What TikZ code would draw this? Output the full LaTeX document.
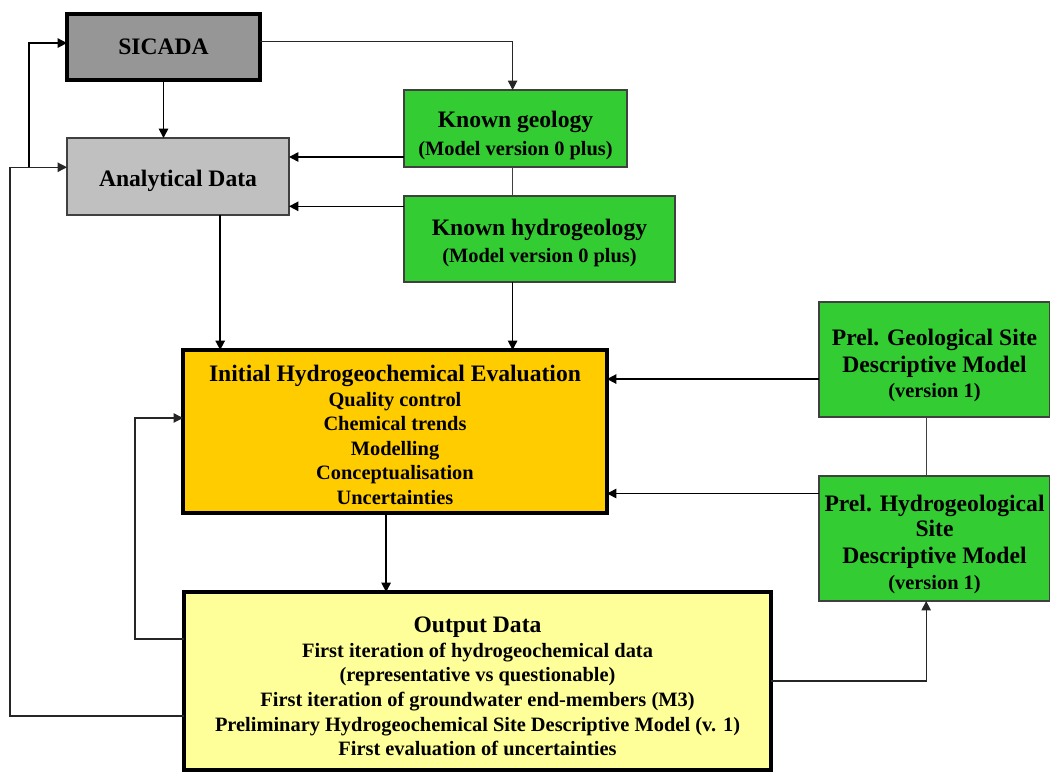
\documentclass[tikz,border=0pt]{standalone}
\usepackage{fontspec}
\setmainfont{Liberation Serif}
\usetikzlibrary{arrows.meta,calc}

\definecolor{sicadagray}{HTML}{969696}
\definecolor{datagray}{HTML}{C0C0C0}
\definecolor{modelgreen}{HTML}{33CC33}
\definecolor{evalorange}{HTML}{FFCC00}
\definecolor{outyellow}{HTML}{FFFF99}
\definecolor{edgegray}{HTML}{404040}

\newcommand\hdtxt{\fontsize{17.7}{21}\selectfont}
\newcommand\ittxt{\fontsize{15.3}{18.4}\selectfont}
% invisible strut that adds head room above the first line of a box
\newcommand\topgap[1]{\rule{0pt}{#1}}

\tikzset{
  panel/.style={draw=edgegray, line width=0.8pt, inner sep=0pt, outer sep=0pt,
                align=center, font=\bfseries\ittxt},
  sz/.style 2 args={minimum width={#1*0.75pt}, minimum height={#2*0.75pt}},
  heavy/.style={draw=black, line width=3pt},
  arr/.style={-{Triangle[length=7pt,width=7pt]}, line width=1.2pt, draw=black},
  thinarr/.style={-{Triangle[length=7pt,width=7pt]}, line width=0.9pt, draw=black!85},
  link/.style={line width=0.9pt, draw=edgegray}
}

\begin{document}
\begin{tikzpicture}[x=0.75pt,y=-0.75pt]
\useasboundingbox (0,0) rectangle (1050,772);

% ---- boxes ----
\node[panel, heavy, fill=sicadagray, sz={193}{66}] (sicada) at (163.5,47) {\hdtxt SICADA};
\node[panel, fill=datagray, sz={222}{77}] (ana) at (178,176.5)
  {\hdtxt\topgap{18.2pt}Analytical Data};
\node[panel, fill=modelgreen, sz={223}{77}] (kgeo) at (515.5,128.5)
  {{\hdtxt\topgap{22.7pt}Known geology}\\[2pt](Model version 0 plus)};
\node[panel, fill=modelgreen, sz={271}{86}] (khyd) at (539.5,239)
  {{\hdtxt\topgap{18.5pt}Known hydrogeology}\\[2pt](Model version 0 plus)};
\node[panel, fill=modelgreen, sz={231}{115}] (pgeo) at (934.5,359.5)
  {{\hdtxt\topgap{21.2pt}Prel. Geological Site}\\[2pt]{\hdtxt Descriptive Model}\\(version 1)};
\node[panel, fill=modelgreen, sz={231}{125}] (phyd) at (934.5,538.5)
  {{\hdtxt\topgap{21pt}Prel. Hydrogeological}\\{\hdtxt Site}\\[2pt]{\hdtxt Descriptive Model}\\[1pt](version 1)};
\node[panel, heavy, fill=evalorange, sz={424}{163}] (ihe) at (395,431.5)
  {{\hdtxt\topgap{17.6pt}Initial Hydrogeochemical Evaluation}\\
   Quality control\\Chemical trends\\Modelling\\Conceptualisation\\Uncertainties};
\node[panel, heavy, fill=outyellow, sz={587}{178}] (out) at (477.5,681)
  {{\hdtxt\topgap{20pt}Output Data}\\
   First iteration of hydrogeochemical data\\
   (representative vs questionable)\\
   First iteration of groundwater end-members (M3)\\
   Preliminary Hydrogeochemical Site Descriptive Model (v. 1)\\
   First evaluation of uncertainties};

% ---- routing columns ----
\coordinate (outerx) at (10,0);
\coordinate (branchx) at (29,0);
\coordinate (loopx) at (135,0);

% ---- connectors ----
% SICADA feeds the analytical data and the known geology
\draw[arr] (sicada.south) -- (sicada.south |- ana.north);
\coordinate (s1) at ($(sicada.north east)!0.42!(sicada.south east)$);
\coordinate (g1) at ($(kgeo.north west)!0.487!(kgeo.north east)$);
\draw[thinarr] (s1) -| (g1);

% known geology / hydrogeology to analytical data
\coordinate (g2) at ($(kgeo.north west)!0.87!(kgeo.south west)$);
\draw[arr] (g2) -- (g2 -| ana.east);
\coordinate (h1) at ($(khyd.north west)!0.12!(khyd.south west)$);
\draw[arr] (h1) -- (h1 -| ana.east);
\draw[link] (g1 |- kgeo.south) -- (g1 |- khyd.north);
\draw[arr] (g1 |- khyd.south) -- (g1 |- ihe.north);

% analytical data to the evaluation
\coordinate (a1) at ($(ana.south west)!0.69!(ana.south east)$);
\draw[arr] (a1) -- (a1 |- ihe.north);

% preliminary site models to the evaluation
\coordinate (p1) at ($(pgeo.north west)!0.67!(pgeo.south west)$);
\draw[arr] (p1) -- (p1 -| ihe.east);
\coordinate (p2) at ($(phyd.north west)!0.14!(phyd.south west)$);
\draw[arr] (p2) -- (p2 -| ihe.east);
\coordinate (p3) at ($(pgeo.south west)!0.464!(pgeo.south east)$);
\draw[link] (p3) -- (p3 |- phyd.north);

% evaluation to output
\coordinate (e1) at ($(ihe.south west)!0.479!(ihe.south east)$);
\draw[arr] (e1) -- (e1 |- out.north);

% output back to the hydrogeological model
\draw[thinarr] (out.east) -| (p3 |- phyd.south);

% output back to the evaluation
\coordinate (o1) at ($(out.north west)!0.264!(out.south west)$);
\coordinate (i1) at ($(ihe.north west)!0.417!(ihe.south west)$);
\draw[thinarr] (o1) -- (o1 -| loopx) |- (i1);

% output back to analytical data and SICADA
\coordinate (o2) at ($(out.north west)!0.697!(out.south west)$);
\coordinate (d1) at ($(ana.north west)!0.38!(ana.south west)$);
\coordinate (s2) at ($(sicada.north west)!0.44!(sicada.south west)$);
\draw[thinarr] (o2) -- (o2 -| outerx) |- (d1);
\draw[arr] (branchx |- d1) |- (s2);
\end{tikzpicture}
\end{document}
